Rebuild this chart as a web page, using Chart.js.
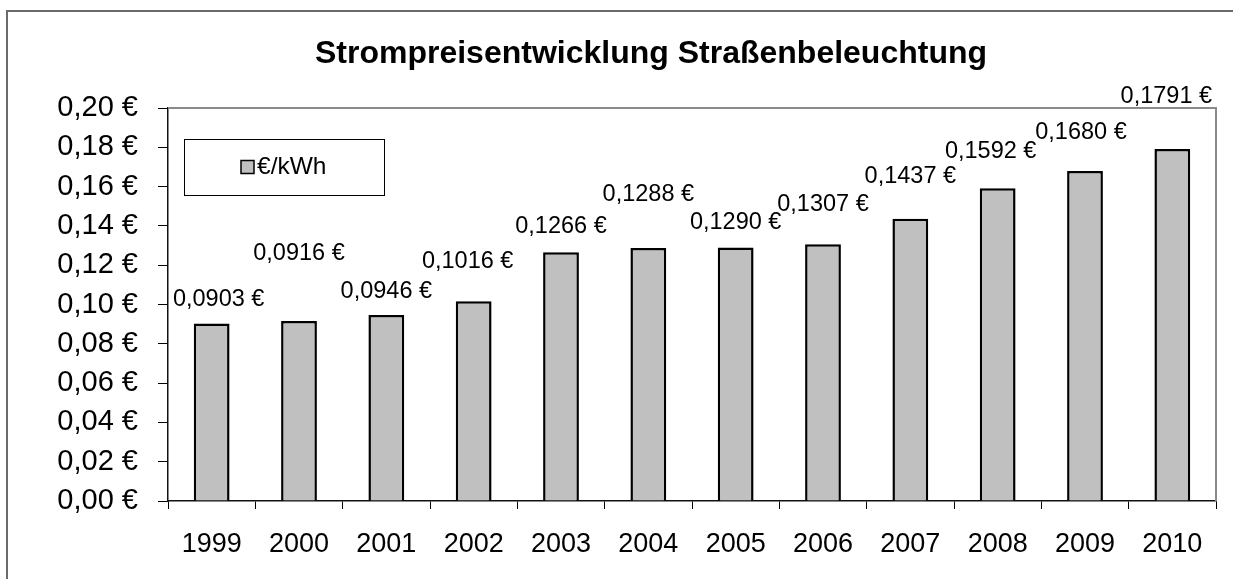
<!DOCTYPE html>
<html lang="de">
<head>
<meta charset="utf-8">
<title>Strompreisentwicklung Straßenbeleuchtung</title>
<script src="https://cdn.jsdelivr.net/npm/chart.js@4.4.1/dist/chart.umd.min.js"></script>
<style>
  html, body { margin: 0; padding: 0; background: #fff; overflow: hidden; width: 1233px; height: 579px; }
  /* the original figure is wider than the window: only its top and left frame edges show */
  #frame { position: absolute; left: 6px; top: 10px; width: 1290px; height: 620px;
           border-left: 2px solid #6b6b6b; border-top: 2px solid #6b6b6b; }
  #chart { position: absolute; left: 0; top: 0; }
</style>
</head>
<body>
<div id="frame"><canvas id="chart" width="1286" height="567"></canvas></div>
<script>
// ================== Data ==================
const chartTitle = "Strompreisentwicklung Straßenbeleuchtung";
const seriesName = "€/kWh";
const years = ["1999", "2000", "2001", "2002", "2003", "2004", "2005", "2006", "2007", "2008", "2009", "2010"];
const pricePerKwh = [0.0903, 0.0916, 0.0946, 0.1016, 0.1266, 0.1288, 0.129, 0.1307, 0.1437, 0.1592, 0.168, 0.1791];
const yMin = 0;
const yMax = 0.2;
const yStep = 0.02;

// label placement as in the original (dx, lift above bar top), px
const labelNudge = [[7, 24], [0, 67], [0, 24], [-6, 40], [0, 26], [0, 53], [0, 25], [0, 40], [0, 42], [-7, 37], [-4, 38], [-6, 53]];

const FONT = "'Liberation Sans', Arial, sans-serif";
const euro = (v, d) => v.toFixed(d).replace(".", ",") + " €";

// ================== Plugins ==================
// gray frame on top/right of the plot area
const plotFrame = {
  id: "plotFrame",
  beforeDatasetsDraw(chart) {
    const { ctx, chartArea: a } = chart;
    ctx.save();
    ctx.strokeStyle = "#8a8a8a";
    ctx.lineWidth = 2;
    ctx.beginPath();
    ctx.moveTo(a.left, a.top);
    ctx.lineTo(a.right, a.top);
    ctx.lineTo(a.right, a.bottom);
    ctx.stroke();
    ctx.restore();
  },
};

// value labels above the bars
const valueLabels = {
  id: "valueLabels",
  afterDatasetsDraw(chart) {
    const { ctx } = chart;
    const meta = chart.getDatasetMeta(0);
    ctx.save();
    ctx.font = "23.5px " + FONT;
    ctx.fillStyle = "#000";
    ctx.textAlign = "center";
    ctx.textBaseline = "middle";
    meta.data.forEach((bar, i) => {
      const [dx, lift] = labelNudge[i];
      ctx.fillText(euro(chart.data.datasets[0].data[i], 4), bar.x + dx, bar.y - lift);
    });
    ctx.restore();
  },
};

// title centered on the whole figure + boxed legend inside the plot
const titleAndLegend = {
  id: "titleAndLegend",
  afterDraw(chart) {
    const { ctx, chartArea: a } = chart;
    ctx.save();
    ctx.font = "bold 32px " + FONT;
    ctx.fillStyle = "#000";
    ctx.textAlign = "center";
    ctx.textBaseline = "alphabetic";
    ctx.fillText(chartTitle, chart.width / 2, 51);

    const ds = chart.data.datasets[0];
    const bx = a.left + 16, by = a.top + 31, bw = 200, bh = 56;
    ctx.fillStyle = "#fff";
    ctx.fillRect(bx, by, bw, bh);
    ctx.strokeStyle = "#000";
    ctx.lineWidth = 1;
    ctx.strokeRect(bx + 0.5, by + 0.5, bw, bh);

    ctx.font = "24.5px " + FONT;
    const tw = ctx.measureText(ds.label).width;
    const box = 13, gap = 3;
    const sx = Math.round(bx + bw / 2 - (box + gap + tw) / 2);
    const cy = by + bh / 2;
    ctx.fillStyle = ds.backgroundColor;
    ctx.fillRect(sx, cy - box / 2, box, box);
    ctx.lineWidth = 1.5;
    ctx.strokeRect(sx, cy - box / 2, box, box);
    ctx.fillStyle = "#000";
    ctx.textAlign = "left";
    ctx.textBaseline = "middle";
    ctx.fillText(ds.label, sx + box + gap, cy);
    ctx.restore();
  },
};

// ================== Chart ==================
const ctx = document.getElementById("chart").getContext("2d");
const priceChart = new Chart(ctx, {
  type: "bar",
  data: {
    labels: years,
    datasets: [
      {
        label: seriesName,
        data: pricePerKwh,
        backgroundColor: "#c0c0c0",
        borderColor: "#000",
        borderWidth: 2.5,
        barPercentage: 0.41,
        categoryPercentage: 1,
      },
    ],
  },
  options: {
    responsive: false,
    animation: false,
    devicePixelRatio: 1,
    layout: { padding: { top: 96, right: 78, left: 0, bottom: 0 } },
    plugins: {
      legend: { display: false },
      title: { display: false },
      tooltip: { enabled: false },
    },
    scales: {
      x: {
        afterFit: (s) => { s.height = 78; },
        grid: { drawOnChartArea: false, offset: true, tickLength: 8, color: "#000", tickColor: "#000" },
        border: { color: "#111", width: 1.5 },
        ticks: { color: "#000", font: { family: FONT, size: 27 }, padding: 19, maxRotation: 0, autoSkip: false },
      },
      y: {
        min: yMin,
        max: yMax,
        afterFit: (s) => { s.width = 160; },
        grid: { drawOnChartArea: false, tickLength: 10, color: "#000", tickColor: "#000" },
        border: { color: "#111", width: 1.5 },
        ticks: {
          stepSize: yStep,
          color: "#000",
          font: { family: FONT, size: 29 },
          padding: 20,
          callback: (v) => euro(v, 2),
        },
      },
    },
  },
  plugins: [plotFrame, valueLabels, titleAndLegend],
});
</script>
</body>
</html>
